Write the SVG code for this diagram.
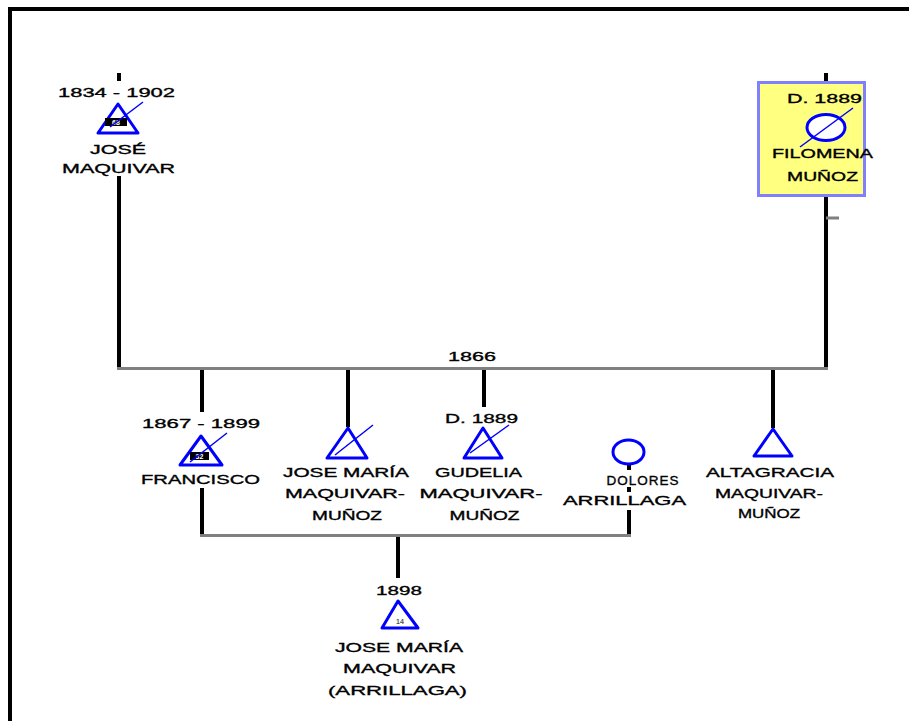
<svg xmlns="http://www.w3.org/2000/svg" width="909" height="721" viewBox="0 0 909 721">
<style>
text{font-family:"Liberation Sans",Arial,sans-serif;font-size:13.5px;font-weight:normal;fill:#000;stroke:#000;stroke-width:0.35px;text-anchor:middle}
.sym{fill:#fff;stroke:#0000ff;stroke-width:3;stroke-linejoin:round}
.dec{stroke:#0000ff;stroke-width:1.5;fill:none}
.v{stroke:#000;stroke-width:4;fill:none}
.h{stroke:#808080;stroke-width:3;fill:none}
text.age{font-size:7px;fill:#fff;stroke:none;font-weight:bold}
</style>
<rect width="909" height="721" fill="#fff"/>
<path d="M10 721V9H909" fill="none" stroke="#000" stroke-width="4"/>
<g id="connectors">
<path class="v" d="M119 73V81M119 176V370M826 73V83M826 196V370M202 370V412M348 370V427M484 370V407M773 370V428M202 488V535M629 510V535M398 537V578M629 465V470M629 487V492"/>
<path class="h" d="M117 368.5H828M200 535.5H631M826 218H839"/>
</g>
<g id="jose">
<text x="116.5" y="97" textLength="117" lengthAdjust="spacingAndGlyphs">1834 - 1902</text>
<path class="sym" d="M118 104L98 133H138Z"/>
<rect x="105" y="118" width="22" height="8" fill="#000"/>
<text class="age" x="116" y="125">68</text>
<path class="dec" d="M110 127L143 102"/>
<text x="118" y="154" textLength="56" lengthAdjust="spacingAndGlyphs">JOSÉ</text>
<text x="118.5" y="173" textLength="113" lengthAdjust="spacingAndGlyphs">MAQUIVAR</text>
</g>
<g id="filomena">
<rect x="758.5" y="82.5" width="106" height="113" fill="#ffff80" stroke="#8080ff" stroke-width="3"/>
<text x="824.5" y="103" textLength="75" lengthAdjust="spacingAndGlyphs">D. 1889</text>
<ellipse class="sym" cx="826" cy="127.5" rx="19" ry="13"/>
<path class="dec" d="M800 147L853 108"/>
<text x="822.5" y="158" textLength="101" lengthAdjust="spacingAndGlyphs">FILOMENA</text>
<text x="822.5" y="181" textLength="71" lengthAdjust="spacingAndGlyphs">MUÑOZ</text>
</g>
<g id="marriage1">
<text x="472" y="361" textLength="48" lengthAdjust="spacingAndGlyphs">1866</text>
</g>
<g id="francisco">
<text x="201" y="428" textLength="118" lengthAdjust="spacingAndGlyphs">1867 - 1899</text>
<path class="sym" d="M201 436L180 465H222Z"/>
<rect x="190" y="452" width="19" height="8" fill="#000"/>
<text class="age" x="199.5" y="459">32</text>
<path class="dec" d="M190 462L227 433"/>
<text x="200.5" y="484" textLength="119" lengthAdjust="spacingAndGlyphs">FRANCISCO</text>
</g>
<g id="josemaria">
<path class="sym" d="M348 428L327 458H367Z"/>
<path class="dec" d="M335 455L373 425"/>
<text x="346" y="477" textLength="126" lengthAdjust="spacingAndGlyphs">JOSE MARÍA</text>
<text x="345" y="498" textLength="120" lengthAdjust="spacingAndGlyphs">MAQUIVAR-</text>
<text x="347" y="520" textLength="70" lengthAdjust="spacingAndGlyphs">MUÑOZ</text>
</g>
<g id="gudelia">
<text x="481.5" y="423" textLength="73" lengthAdjust="spacingAndGlyphs">D. 1889</text>
<path class="sym" d="M483 428L464 458H502Z"/>
<path class="dec" d="M470 453L509 425"/>
<text x="478.5" y="477" textLength="87" lengthAdjust="spacingAndGlyphs">GUDELIA</text>
<text x="481" y="498" textLength="123" lengthAdjust="spacingAndGlyphs">MAQUIVAR-</text>
<text x="484.5" y="520" textLength="70" lengthAdjust="spacingAndGlyphs">MUÑOZ</text>
</g>
<g id="dolores">
<ellipse class="sym" cx="628.5" cy="452" rx="15.5" ry="12"/>
<text x="643" y="485" font-size="13.5" letter-spacing="1">DOLORES</text>
<text x="624.5" y="505" textLength="123" lengthAdjust="spacingAndGlyphs">ARRILLAGA</text>
</g>
<g id="altagracia">
<path class="sym" d="M773 429L754 456H792Z"/>
<text x="770" y="477" textLength="128" lengthAdjust="spacingAndGlyphs">ALTAGRACIA</text>
<text x="769" y="498" textLength="108" lengthAdjust="spacingAndGlyphs">MAQUIVAR-</text>
<text x="769" y="518" textLength="62" lengthAdjust="spacingAndGlyphs">MUÑOZ</text>
</g>
<g id="josemaria2">
<text x="399" y="595" textLength="46" lengthAdjust="spacingAndGlyphs">1898</text>
<path class="sym" d="M398 601L382 628H418Z"/>
<text class="age" x="400" y="624" style="fill:#555">14</text>
<text x="399" y="652" textLength="128" lengthAdjust="spacingAndGlyphs">JOSE MARÍA</text>
<text x="399.5" y="673" textLength="113" lengthAdjust="spacingAndGlyphs">MAQUIVAR</text>
<text x="397.5" y="695" textLength="139" lengthAdjust="spacingAndGlyphs">(ARRILLAGA)</text>
</g>
</svg>
